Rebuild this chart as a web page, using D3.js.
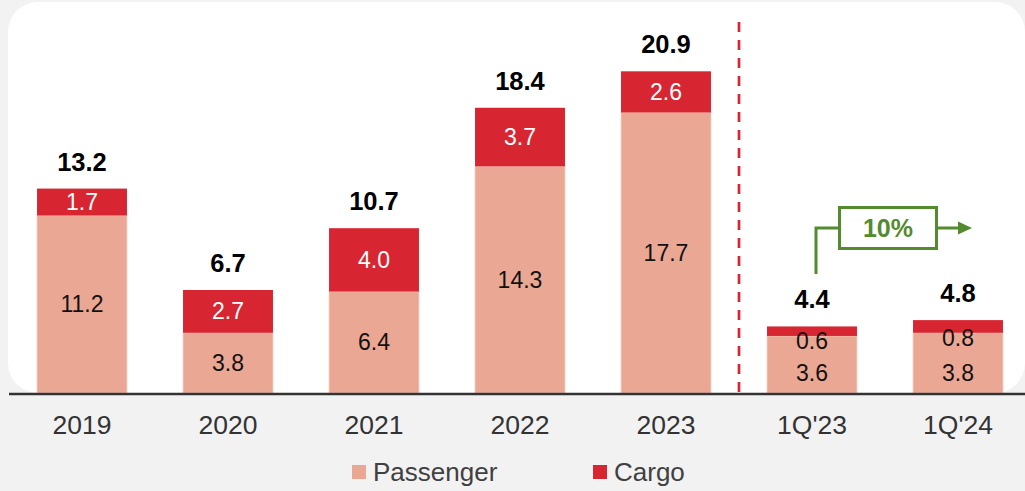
<!DOCTYPE html>
<html>
<head>
<meta charset="utf-8">
<script src="https://cdn.jsdelivr.net/npm/d3@7"></script>
<style>
  body { margin: 0; background: #f2f2f2; }
  svg { display: block; font-family: "Liberation Sans", Arial, sans-serif; }
</style>
</head>
<body>
<div id="chart"></div>
<script>
// Data
const categories = ["2019", "2020", "2021", "2022", "2023", "1Q'23", "1Q'24"]
const passenger = [11.2, 3.8, 6.4, 14.3, 17.7, 3.6, 3.8]
const cargo = [1.7, 2.7, 4.0, 3.7, 2.6, 0.6, 0.8]
const totals = [13.2, 6.7, 10.7, 18.4, 20.9, 4.4, 4.8]
const growthLabel = "10%"
const seriesNames = ["Passenger", "Cargo"]

// Initialize
var width = 1025
var height = 491
var baseY = 393

const passColor = "#eaa793"
const cargoColor = "#d72632"
const green = "#538b2e"

const svg = d3.select("#chart").append("svg")
  .attr("width", width)
  .attr("height", height)

svg.append("rect")
  .attr("width", width).attr("height", height)
  .attr("fill", "#f2f2f2")

// white panel
svg.append("rect")
  .attr("x", 8).attr("y", 2)
  .attr("width", 1017).attr("height", baseY - 2)
  .attr("rx", 30).attr("ry", 30)
  .attr("fill", "#ffffff")

// Scales
const x = d3.scaleBand()
  .domain(categories)
  .range([9, 1031])
  .paddingInner(0.384)
  .paddingOuter(0.192)

const y = d3.scaleLinear()
  .domain([0, 24.8])
  .range([baseY, 0])

const rows = categories.map((c, i) => ({
  cat: c, pass: passenger[i], cargo: cargo[i], total: totals[i]
}))

// Bars
const bars = svg.append("g")
bars.selectAll(".pass")
  .data(rows)
  .enter().append("rect")
  .attr("x", d => x(d.cat))
  .attr("width", x.bandwidth())
  .attr("y", d => y(d.pass))
  .attr("height", d => y(0) - y(d.pass))
  .attr("fill", passColor)
  .attr("stroke", "#f6cfc4")
  .attr("stroke-width", 0.8)

bars.selectAll(".cargo")
  .data(rows)
  .enter().append("rect")
  .attr("x", d => x(d.cat))
  .attr("width", x.bandwidth())
  .attr("y", d => y(d.pass + d.cargo))
  .attr("height", d => y(d.pass) - y(d.pass + d.cargo))
  .attr("fill", cargoColor)

// segment labels
const small = d => (y(d.pass) - y(d.pass + d.cargo)) < 20

svg.append("g").selectAll("text")
  .data(rows)
  .enter().append("text")
  .attr("x", d => x(d.cat) + x.bandwidth() / 2)
  .attr("y", d => small(d) ? y(0) - 20 : (y(0) + y(d.pass)) / 2)
  .attr("dy", "0.35em")
  .attr("text-anchor", "middle")
  .attr("font-size", 23)
  .attr("fill", "#111")
  .text(d => d.pass.toFixed(1))

svg.append("g").selectAll("text")
  .data(rows)
  .enter().append("text")
  .attr("x", d => x(d.cat) + x.bandwidth() / 2)
  .attr("y", d => small(d) ? y(d.pass) + 5 : (y(d.pass) + y(d.pass + d.cargo)) / 2)
  .attr("dy", "0.35em")
  .attr("text-anchor", "middle")
  .attr("font-size", 23)
  .attr("fill", d => small(d) ? "#111" : "#ffffff")
  .text(d => d.cargo.toFixed(1))

// totals
svg.append("g").selectAll("text")
  .data(rows)
  .enter().append("text")
  .attr("x", d => x(d.cat) + x.bandwidth() / 2)
  .attr("y", d => y(d.pass + d.cargo) - 18)
  .attr("text-anchor", "middle")
  .attr("font-size", 25.5)
  .attr("font-weight", "bold")
  .attr("fill", "#000")
  .text(d => d.total.toFixed(1))

// x axis
const xAxis = svg.append("g")
  .attr("transform", `translate(0,${baseY})`)
  .call(d3.axisBottom(x).tickSize(0).tickPadding(22))
xAxis.select(".domain").remove()
xAxis.selectAll("text")
  .attr("font-size", 26.5)
  .attr("fill", "#333")
  .attr("font-family", "Liberation Sans, Arial, sans-serif")

svg.append("line")
  .attr("x1", 9).attr("x2", width)
  .attr("y1", baseY + 1).attr("y2", baseY + 1)
  .attr("stroke", "#333").attr("stroke-width", 2.5)

// divider between years and quarters
const step = x.step()
const divX = x("2023") + x.bandwidth() + (step - x.bandwidth()) / 2
svg.append("line")
  .attr("x1", divX).attr("x2", divX)
  .attr("y1", 22).attr("y2", baseY)
  .attr("stroke", cargoColor)
  .attr("stroke-width", 2.7)
  .attr("stroke-dasharray", "10,8")

// growth annotation
const cA = x("1Q'23") + x.bandwidth() / 2
const cB = x("1Q'24") + x.bandwidth() / 2
const lineY = 228
const ax0 = cA + 4
const ax1 = cB + 14
const boxC = (cA + cB) / 2 + 3
const boxW = 97, boxH = 41

svg.append("path")
  .attr("d", `M${ax0},274 V${lineY} H${boxC - boxW / 2} M${boxC + boxW / 2},${lineY} H${ax1 - 12}`)
  .attr("fill", "none")
  .attr("stroke", green)
  .attr("stroke-width", 3)

svg.append("path")
  .attr("d", `M${ax1 - 14},${lineY - 6.5} L${ax1},${lineY} L${ax1 - 14},${lineY + 6.5} Z`)
  .attr("fill", green)

svg.append("rect")
  .attr("x", boxC - boxW / 2).attr("y", lineY - boxH / 2)
  .attr("width", boxW).attr("height", boxH)
  .attr("fill", "#fff")
  .attr("stroke", green).attr("stroke-width", 3)

svg.append("text")
  .attr("x", boxC).attr("y", lineY)
  .attr("dy", "0.35em")
  .attr("text-anchor", "middle")
  .attr("font-size", 25)
  .attr("font-weight", "bold")
  .attr("fill", green)
  .text(growthLabel)

// Legend
const legend = svg.append("g").attr("transform", "translate(0,472)")
const legX = [352, 593]
const legCol = [passColor, cargoColor]
seriesNames.forEach((n, i) => {
  legend.append("rect")
    .attr("x", legX[i]).attr("y", -7)
    .attr("width", 14).attr("height", 14)
    .attr("fill", legCol[i])
  legend.append("text")
    .attr("x", legX[i] + 21).attr("y", 0)
    .attr("dy", "0.35em")
    .attr("font-size", 26)
    .attr("fill", "#404040")
    .text(n)
})
</script>
</body>
</html>
